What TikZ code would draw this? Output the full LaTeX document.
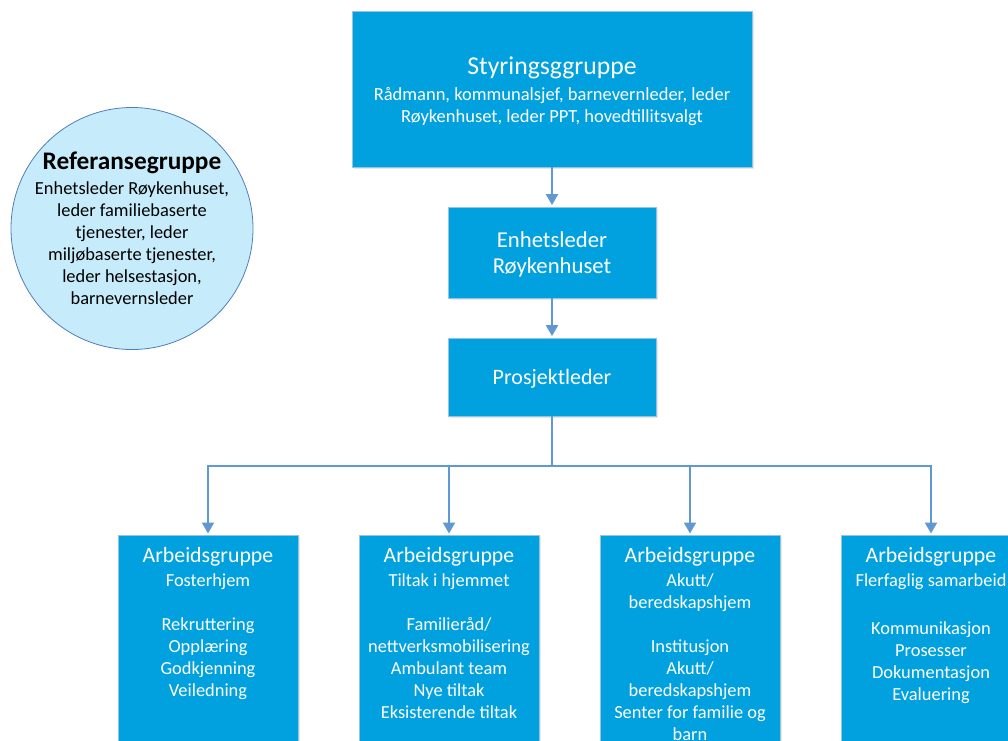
\documentclass[tikz,border=0pt]{standalone}
\usepackage{fontspec}
\setmainfont{Carlito}
\usetikzlibrary{arrows.meta,shadows}
\definecolor{boxblue}{RGB}{0,161,222}
\definecolor{boxedge}{RGB}{150,195,225}
\definecolor{arrowc}{RGB}{96,152,212}
\definecolor{circfill}{RGB}{198,236,251}
\definecolor{circedge}{RGB}{80,125,185}
\tikzset{
  bluebox/.style={rectangle, fill=boxblue, draw=boxedge, line width=0.8pt,
    inner sep=0pt, drop shadow={opacity=0.18, shadow xshift=1.5pt, shadow yshift=-1.5pt}},
  wtxt/.style={text=white, align=center, inner sep=0pt},
  btxt/.style={text=black, align=center, inner sep=0pt},
  conn/.style={draw=arrowc, line width=2pt, -{Triangle[width=12pt,length=11pt]}, shorten >=1.5pt},
  bus/.style={draw=arrowc, line width=2pt},
  bodyfont/.style={font=\fontsize{18.4}{22}\selectfont},
  titlefont/.style={font=\fontsize{21.8}{26}\selectfont}
}
\begin{document}
\begin{tikzpicture}[x=1pt,y=-1pt]
\useasboundingbox (0,0) rectangle (1008,740);
\clip (0,0) rectangle (1008,740);
\fill[white] (0,0) rectangle (1008,740);

% reference circle
\node[circle, fill=circfill, draw=circedge, line width=0.8pt, minimum size=242pt, inner sep=0pt] (ref) at (132,228.5) {};
\node[btxt, font=\fontsize{25.3}{28}\selectfont\bfseries, anchor=mid] (reft) at (132,167) {Referansegruppe};
\node[btxt, bodyfont, anchor=north] (refb) at (132,179) {\strut Enhetsleder Røykenhuset,\\leder familiebaserte\\tjenester, leder\\miljøbaserte tjenester,\\leder helsestasjon,\\barnevernsleder};

% top boxes
\node[bluebox, minimum width=400pt, minimum height=156pt] (styr) at (552,89) {};
\node[wtxt, font=\fontsize{25.7}{30}\selectfont, anchor=mid] (styrt) at (552,72.5) {Styringsggruppe};
\node[wtxt, font=\fontsize{18.5}{21.5}\selectfont, anchor=north] (styrb) at (552,85.3) {\strut Rådmann, kommunalsjef, barnevernleder, leder\\Røykenhuset, leder PPT, hovedtillitsvalgt};

\node[bluebox, minimum width=208pt, minimum height=91pt] (enh) at (552,252.5) {};
\node[wtxt, font=\fontsize{22.7}{26}\selectfont, anchor=north] (enht) at (552,228.8) {\strut Enhetsleder\\Røykenhuset};

\node[bluebox, minimum width=208pt, minimum height=78pt] (pros) at (552,377) {};
\node[wtxt, font=\fontsize{22}{26}\selectfont, anchor=mid] (prost) at (552,382) {Prosjektleder};

% bottom boxes
\node[bluebox, anchor=north, minimum width=180pt, minimum height=260pt] (b1) at (208,535) {};
\node[bluebox, anchor=north, minimum width=180pt, minimum height=260pt] (b2) at (449,535) {};
\node[bluebox, anchor=north, minimum width=180pt, minimum height=260pt] (b3) at (690,535) {};
\node[bluebox, anchor=north, minimum width=180pt, minimum height=260pt] (b4) at (931,535) {};

\foreach \b in {b1,b2,b3,b4}{
  \node[wtxt, titlefont, anchor=mid] (\b t) at ([yshift=-25pt]\b.north) {Arbeidsgruppe};
}
\node[wtxt, bodyfont, anchor=north] (b1b) at ([yshift=-35.4pt]b1.north) {\strut Fosterhjem\\ \\Rekruttering\\Opplæring\\Godkjenning\\Veiledning};
\node[wtxt, bodyfont, anchor=north] (b2b) at ([yshift=-35.4pt]b2.north) {\strut Tiltak i hjemmet\\ \\Familieråd/\\nettverksmobilisering\\Ambulant team\\Nye tiltak\\Eksisterende tiltak};
\node[wtxt, bodyfont, anchor=north] (b3b) at ([yshift=-35.4pt]b3.north) {\strut Akutt/\\beredskapshjem\\ \\Institusjon\\Akutt/\\beredskapshjem\\Senter for familie og\\barn};
\node[wtxt, bodyfont, anchor=north] (b4b) at ([yshift=-35.4pt]b4.north) {\strut Flerfaglig samarbeid\\ \\[4pt]Kommunikasjon\\Prosesser\\Dokumentasjon\\Evaluering};

% connectors
\draw[conn] (styr.south) -- (enh.north);
\draw[conn] (enh.south) -- (pros.north);
\coordinate (busc) at ([yshift=-50pt]pros.south);
\draw[bus] (pros.south) -- (busc);
\draw[conn] (busc) -| (b1.north);
\draw[conn] (busc) -| (b2.north);
\draw[conn] (busc) -| (b3.north);
\draw[conn] (busc) -| (b4.north);
\end{tikzpicture}
\end{document}
